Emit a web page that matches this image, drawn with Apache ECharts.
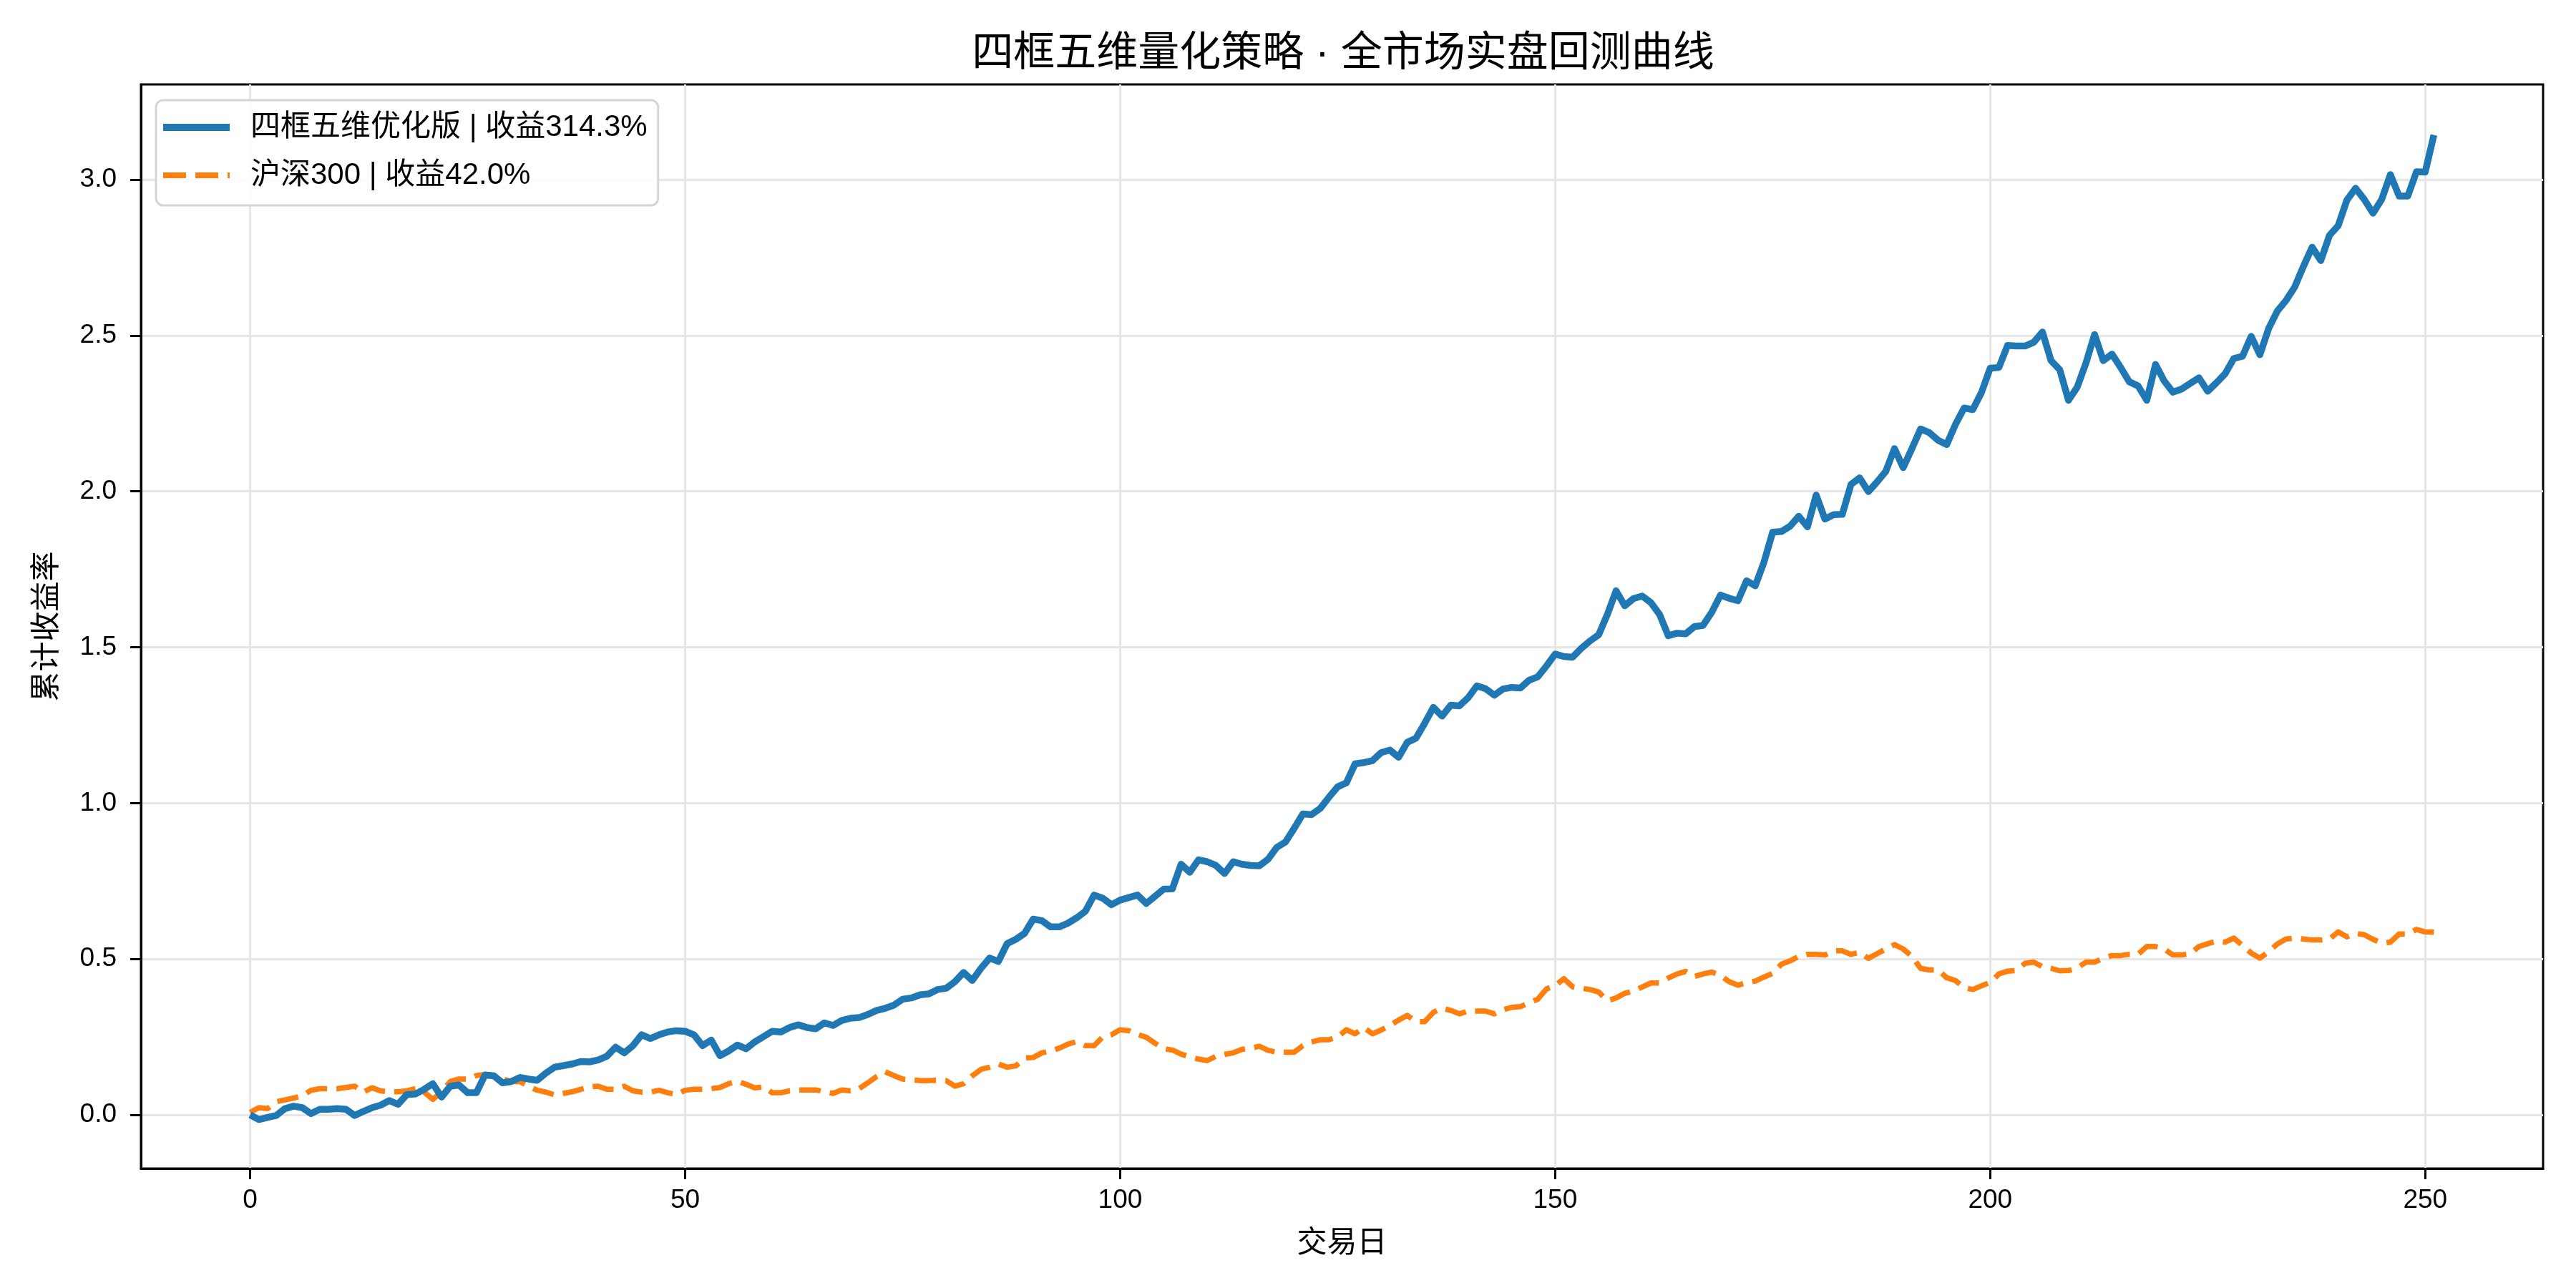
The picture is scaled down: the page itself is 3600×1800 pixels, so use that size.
<!DOCTYPE html>
<html>
<head>
<meta charset="utf-8">
<script src="https://cdn.jsdelivr.net/npm/echarts@6.0.0/dist/echarts.min.js"></script>
<style>
  html, body { margin: 0; padding: 0; background: #fff; }
  #chart { width: 3600px; height: 1800px; }
</style>
</head>
<body>
<div id="chart"></div>
<script>
// cumulative return, one value per trading day (index = day)
const strategyValues = [
  0.0, -0.015, -0.008, -0.002, 0.02, 0.028, 0.023, 0.004, 0.018, 0.018,
  0.02, 0.018, -0.002, 0.011, 0.023, 0.031, 0.046, 0.034, 0.065, 0.067,
  0.082, 0.10, 0.057, 0.092, 0.096, 0.071, 0.071, 0.128, 0.125, 0.103,
  0.107, 0.12, 0.115, 0.111, 0.134, 0.153, 0.158, 0.163, 0.171, 0.17,
  0.176, 0.188, 0.217, 0.199, 0.222, 0.257, 0.245, 0.257, 0.266, 0.27,
  0.268, 0.257, 0.222, 0.24, 0.19, 0.205, 0.224, 0.212, 0.234, 0.251,
  0.268, 0.266, 0.28, 0.289, 0.28, 0.276, 0.295, 0.287, 0.303, 0.31,
  0.312, 0.322, 0.335, 0.342, 0.352, 0.371, 0.375, 0.385, 0.388, 0.402,
  0.406, 0.427, 0.457, 0.431, 0.47, 0.503, 0.492, 0.549, 0.563, 0.582,
  0.628, 0.623, 0.603, 0.603, 0.615, 0.632, 0.653, 0.705, 0.695, 0.674,
  0.689, 0.697, 0.705, 0.678, 0.701, 0.724, 0.725, 0.804, 0.778, 0.818,
  0.812, 0.8, 0.774, 0.812, 0.804, 0.8, 0.799, 0.82, 0.858, 0.875,
  0.919, 0.965, 0.963, 0.983, 1.019, 1.052, 1.065, 1.126, 1.13, 1.136,
  1.162, 1.17, 1.147, 1.195, 1.208, 1.256, 1.307, 1.279, 1.314, 1.312,
  1.338, 1.376, 1.367, 1.346, 1.366, 1.371, 1.369, 1.394, 1.405, 1.44,
  1.478, 1.47, 1.468, 1.496, 1.52, 1.54, 1.605, 1.681, 1.633, 1.656,
  1.664, 1.643, 1.605, 1.537, 1.545, 1.543, 1.566, 1.57, 1.612, 1.667,
  1.657, 1.649, 1.713, 1.697, 1.773, 1.869, 1.871, 1.888, 1.92, 1.886,
  1.988, 1.911, 1.925, 1.926, 2.022, 2.043, 1.999, 2.03, 2.064, 2.137,
  2.076, 2.137, 2.2, 2.188, 2.164, 2.15, 2.214, 2.267, 2.262, 2.317,
  2.395, 2.397, 2.468, 2.466, 2.466, 2.478, 2.511, 2.419, 2.39, 2.292,
  2.334, 2.411, 2.503, 2.419, 2.44, 2.397, 2.351, 2.338, 2.292, 2.407,
  2.354, 2.318, 2.328, 2.346, 2.364, 2.321, 2.348, 2.377, 2.426, 2.433,
  2.497, 2.438, 2.522, 2.578, 2.612, 2.655, 2.721, 2.783, 2.74, 2.821,
  2.852, 2.934, 2.972, 2.936, 2.892, 2.936, 3.016, 2.947, 2.947, 3.025,
  3.024, 3.143
];

const benchmarkValues = [
  0.008, 0.023, 0.02, 0.042, 0.048, 0.054, 0.061, 0.079, 0.084, 0.084,
  0.084, 0.088, 0.092, 0.073, 0.087, 0.077, 0.074, 0.074, 0.077, 0.084,
  0.073, 0.05, 0.073, 0.107, 0.115, 0.115, 0.126, 0.13, 0.126, 0.115,
  0.107, 0.107, 0.092, 0.079, 0.073, 0.064, 0.069, 0.074, 0.082, 0.09,
  0.092, 0.082, 0.082, 0.092, 0.077, 0.073, 0.073, 0.079, 0.071, 0.065,
  0.079, 0.082, 0.082, 0.084, 0.088, 0.1, 0.108, 0.098, 0.087, 0.09,
  0.071, 0.071, 0.077, 0.08, 0.08, 0.08, 0.074, 0.069, 0.08, 0.077,
  0.084, 0.103, 0.123, 0.138, 0.126, 0.115, 0.113, 0.11, 0.11, 0.111,
  0.11, 0.092, 0.1, 0.125, 0.146, 0.153, 0.163, 0.153, 0.157, 0.182,
  0.184, 0.199, 0.205, 0.214, 0.227, 0.235, 0.222, 0.222, 0.25, 0.257,
  0.273, 0.27, 0.258, 0.249, 0.23, 0.212, 0.208, 0.195, 0.186, 0.179,
  0.174, 0.188, 0.194, 0.199, 0.21, 0.214, 0.22, 0.207, 0.201, 0.201,
  0.201, 0.222, 0.234, 0.241, 0.241, 0.25, 0.273, 0.26, 0.28, 0.26,
  0.272, 0.287, 0.304, 0.319, 0.299, 0.299, 0.329, 0.342, 0.335, 0.324,
  0.333, 0.333, 0.333, 0.324, 0.337, 0.345, 0.347, 0.36, 0.371, 0.404,
  0.414, 0.437, 0.411, 0.406, 0.402, 0.394, 0.366, 0.375, 0.39, 0.397,
  0.41, 0.423, 0.423, 0.439, 0.452, 0.46, 0.444, 0.452, 0.458, 0.448,
  0.427, 0.416, 0.424, 0.429, 0.442, 0.454, 0.483, 0.494, 0.508, 0.515,
  0.515, 0.513, 0.526, 0.526, 0.515, 0.521, 0.502, 0.517, 0.532, 0.546,
  0.532, 0.509, 0.47, 0.465, 0.465, 0.44, 0.431, 0.408, 0.402, 0.414,
  0.425, 0.452, 0.461, 0.463, 0.486, 0.49, 0.475, 0.47, 0.462, 0.463,
  0.471, 0.49, 0.49, 0.502, 0.511, 0.511, 0.515, 0.515, 0.54, 0.54,
  0.532, 0.513, 0.513, 0.517, 0.54, 0.549, 0.557, 0.554, 0.567, 0.544,
  0.519, 0.503, 0.523, 0.548, 0.564, 0.567, 0.564, 0.561, 0.561, 0.564,
  0.587, 0.571, 0.582, 0.578, 0.563, 0.551, 0.554, 0.58, 0.58, 0.595,
  0.587, 0.586
];

const seriesNames = ['四框五维优化版 | 收益314.3%', '沪深300 | 收益42.0%'];
const xTicks = [0, 50, 100, 150, 200, 250];
const yTicks = [0, 0.5, 1.0, 1.5, 2.0, 2.5, 3.0];

const FONT = '"Liberation Sans", "Noto Sans CJK SC", sans-serif';

// [day, value] pairs, day = index in array
const toPairs = (vals) => vals.map((v, i) => [i, v]);

const chart = echarts.init(document.getElementById('chart'), null, {renderer: 'canvas'});

const option = {
  animation: false,
  backgroundColor: '#ffffff',
  textStyle: {fontFamily: FONT},
  graphic: [
    {
      type: 'text',
      x: 1877,
      y: 76,
      style: {
        text: '四框五维量化策略 · 全市场实盘回测曲线',
        fontSize: 58,
        fontFamily: FONT,
        fill: '#000',
        textAlign: 'center',
        textVerticalAlign: 'middle',
      },
    },
  ],
  grid: {
    left: 197,
    right: 46,
    top: 118,
    bottom: 167,
    show: true,
    borderColor: '#000',
    borderWidth: 3,
    backgroundColor: 'transparent',
  },
  legend: {
    orient: 'vertical',
    left: 218,
    top: 140,
    padding: [17, 15, 21, 10],
    itemWidth: 93,
    itemHeight: 10,
    itemGap: 25,
    symbolKeepAspect: true,
    backgroundColor: 'rgba(255,255,255,0.85)',
    borderColor: '#d5d5d5',
    borderWidth: 3,
    borderRadius: 10,
    textStyle: {
      fontSize: 42,
      fontFamily: FONT,
      color: '#000',
      padding: [0, 0, 0, 24],
    },
    data: [
      {name: seriesNames[0], icon: 'rect'},
      // two dashes, like the dashed series line
      {name: seriesNames[1], icon: 'path://M0,0H32V8H0Z M45,0H77V8H45Z M90,0H93V8H90Z'},
    ],
  },
  xAxis: {
    type: 'value',
    min: -12.55,
    max: 263.55,
    name: '交易日',
    nameLocation: 'middle',
    nameGap: 84,
    nameTextStyle: {fontSize: 42, color: '#000', fontFamily: FONT},
    axisLine: {show: true, onZero: false, lineStyle: {color: '#000', width: 3}},
    axisTick: {
      show: true,
      inside: false,
      length: 15,
      lineStyle: {color: '#000', width: 3},
      customValues: xTicks,
    },
    axisLabel: {
      fontSize: 37,
      color: '#000',
      margin: 26,
      fontFamily: FONT,
      customValues: xTicks,
      formatter: (v) => String(v),
    },
    splitLine: {show: true, lineStyle: {color: '#e6e6e6', width: 3}},
  },
  yAxis: {
    type: 'value',
    min: -0.172,
    max: 3.305,
    name: '累计收益率',
    nameLocation: 'middle',
    nameRotate: 90,
    nameGap: 110,
    nameTextStyle: {fontSize: 42, color: '#000', fontFamily: FONT},
    axisLine: {show: true, onZero: false, lineStyle: {color: '#000', width: 3}},
    axisTick: {
      show: true,
      inside: false,
      length: 15,
      lineStyle: {color: '#000', width: 3},
      customValues: yTicks,
    },
    axisLabel: {
      fontSize: 37,
      color: '#000',
      margin: 34,
      fontFamily: FONT,
      customValues: yTicks,
      formatter: (v) => v.toFixed(1),
    },
    splitLine: {show: true, lineStyle: {color: '#e6e6e6', width: 3}},
  },
  series: [
    {
      name: seriesNames[0],
      type: 'line',
      data: toPairs(strategyValues),
      symbol: 'none',
      color: '#1f77b4',
      lineStyle: {color: '#1f77b4', width: 9.5, join: 'round'},
      z: 3,
    },
    {
      name: seriesNames[1],
      type: 'line',
      data: toPairs(benchmarkValues),
      symbol: 'none',
      color: '#ff7f0e',
      lineStyle: {color: '#ff7f0e', width: 7.5, type: [30, 13], join: 'round'},
      z: 2,
    },
  ],
};

chart.setOption(option);
</script>
</body>
</html>
